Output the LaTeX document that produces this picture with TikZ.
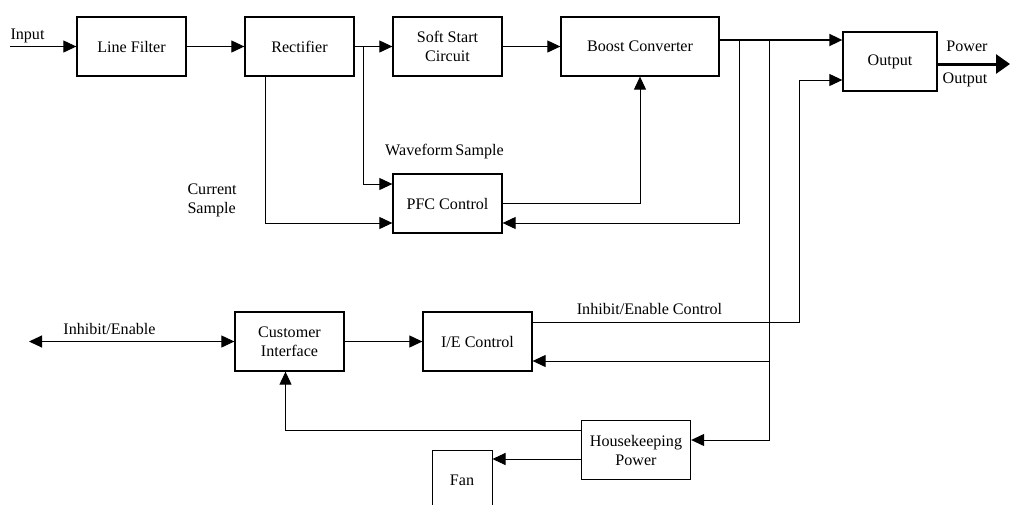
\documentclass[tikz,border=0pt]{standalone}
\usepackage{fontspec}
\setmainfont{Liberation Serif}
\usetikzlibrary{arrows.meta}
\usetikzlibrary{positioning}

\tikzset{
  block/.style={draw, line width=1.3pt, minimum width=109pt, minimum height=59pt,
    align=center, inner sep=2pt},
  lbl/.style={anchor=base, inner sep=0pt},
}

\begin{document}
\begin{tikzpicture}[x=1pt,y=-1pt,node distance=2cm,on grid,
    >={Triangle[length=13pt,width=12pt]}, line width=1pt,
    every node/.style={font=\fontsize{16.1}{19}\selectfont}]
  \useasboundingbox (0,0) rectangle (1010,504);
  % top row
  \node[block] (lf) at (131.5,46.5) {Line Filter};
  \node[block] [right=168pt of lf] (rect) {Rectifier};
  \node[block] [right=148pt of rect] (soft) {Soft Start\\Circuit};
  \node[block, minimum width=158pt] [right=192.5pt of soft] (boost) {Boost Converter};
  \node[block, minimum width=94pt] [below right=15pt and 250pt of boost] (out) {Output};
  \node[block] [below=157pt of soft] (pfc) {PFC Control};
  % bottom part
  \node[block] (ci) at (289.5,341.5) {Customer\\Interface};
  \node[block] [right=188pt of ci] (ie) {I/E Control};
  \node[block] [below right=108.5pt and 158.5pt of ie] (hk) {Housekeeping\\Power};
  \node[block, line width=1pt, minimum width=60pt, minimum height=60pt] [below left=30pt and 174pt of hk] (fan) {Fan};

  \coordinate (in) at (10,46.5);
  \coordinate (wb) at (363.5,46.5);
  \coordinate (b1) at (739,40);
  \coordinate (b2) at (769,40);
  \coordinate (b3) at (799,80);
  \coordinate (pwr) at (1010,64);
  \coordinate (ien) at (29,341.5);
  \coordinate (iein) at ([yshift=-19.5pt]ie.east);
  \coordinate (ieout) at ([yshift=19.5pt]ie.east);
  \coordinate (outin) at ([yshift=-18.5pt]out.west);
  \coordinate (hkfan) at ([yshift=-9pt]hk.west);

  \draw[->] (in) -- (lf);
  \draw[->] (lf) -- (rect);
  \draw[->] (rect) -- (soft);
  \draw[->] (soft) -- (boost);
  \draw[->] (wb) |- ([yshift=19.5pt]pfc.west);
  \draw[->] ([xshift=-34.5pt]rect.south) |- ([yshift=-19.5pt]pfc.west);
  \draw[->] (pfc.east) -| (boost.south);
  \draw[->, line width=1.8pt] ([yshift=6.5pt]boost.east) -- ([yshift=21.5pt]out.west);
  \draw[->] (b1) |- ([yshift=-19.5pt]pfc.east);
  \draw[->] (b2) |- ([yshift=10pt]hk.east);
  \draw[->] (iein -| b2) -- (iein);
  \draw[->] (ieout) -| (b3) -- (outin);
  \draw[-{Triangle[length=14pt,width=19pt]}, line width=3pt] ([yshift=-2.5pt]out.east) -- (pwr);
  \draw[<->] (ien) -- (ci.west);
  \draw[->] (ci) -- (ie);
  \draw[->] ([yshift=20pt]hk.west) -| ([xshift=-4pt]ci.south);
  \draw[->] (hkfan) -- (hkfan -| fan.east);

  % labels
  \node[lbl, anchor=base west] (tin) at (10,39) {Input};
  \node[lbl] (twave) at (444.5,155) {Waveform\,Sample};
  \node[lbl, anchor=west, align=left] (tcur) at (187,200) {Current\\Sample};
  \node[lbl] (tie) at (109.5,334) {Inhibit/Enable};
  \node[lbl] (tiec) at (649.5,314) {Inhibit/Enable Control};
  \node[lbl] (tpow) at (967,51) {Power};
  \node[lbl] (tpout) at (965,83) {Output};
\end{tikzpicture}
\end{document}
